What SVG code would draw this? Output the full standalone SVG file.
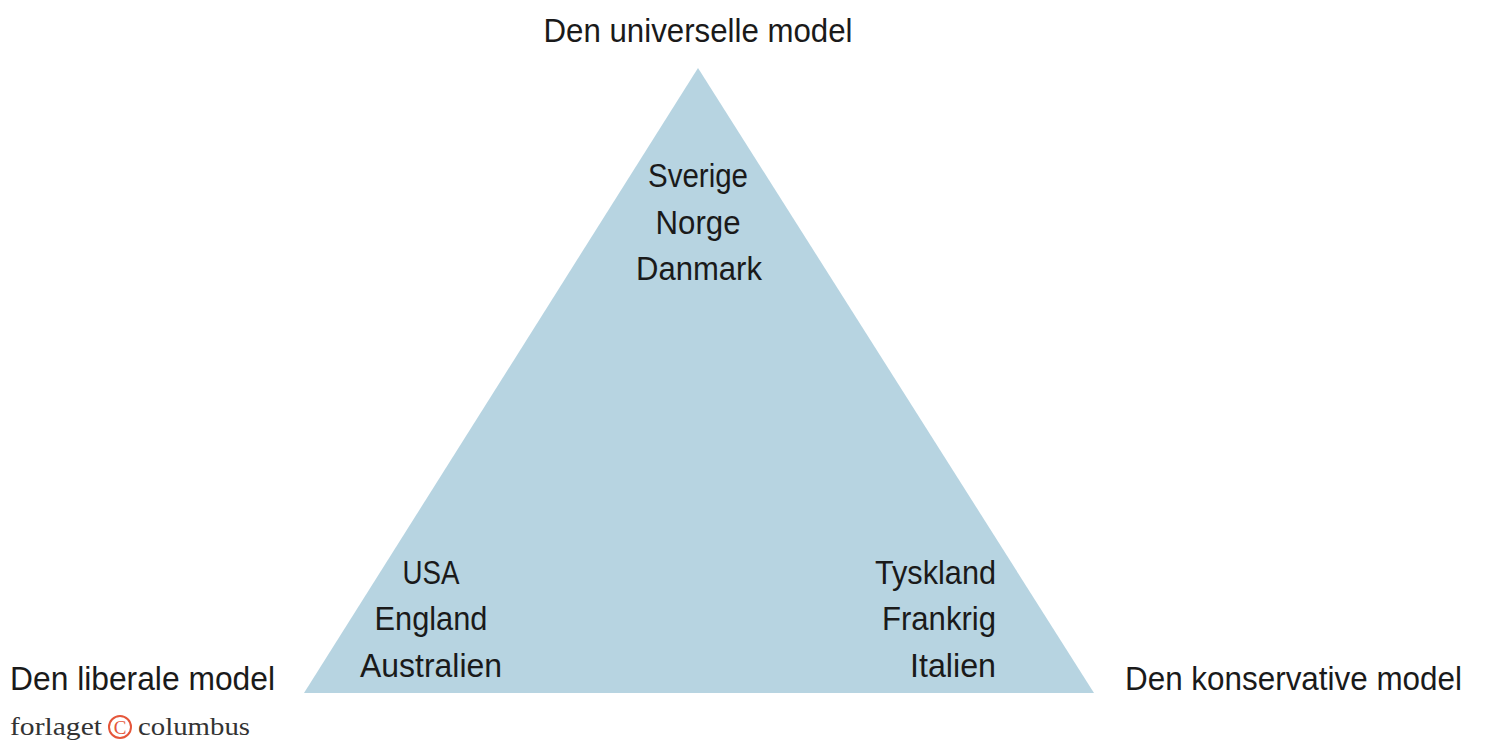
<svg xmlns="http://www.w3.org/2000/svg" width="1500" height="746" viewBox="0 0 1500 746">
<style>
text{font-family:"Liberation Sans",Arial,sans-serif;font-size:34px;fill:#1a1a1a}
.c{text-anchor:middle}.e{text-anchor:end}
.logo{font-family:"Liberation Serif",serif;font-size:26px;fill:#333}
</style>
<rect width="1500" height="746" fill="#fff"/>
<g id="triangle"><polygon points="698,68 304,693 1094,693" fill="#b7d4e1"/></g>
<g id="connectors"></g>
<g id="top"><text class="c" x="698" y="42" textLength="309" lengthAdjust="spacingAndGlyphs">Den universelle model</text>
<text class="c" x="698" y="187" textLength="100" lengthAdjust="spacingAndGlyphs">Sverige</text>
<text class="c" x="698" y="234" textLength="85" lengthAdjust="spacingAndGlyphs">Norge</text>
<text class="c" x="699" y="280" textLength="126" lengthAdjust="spacingAndGlyphs">Danmark</text></g>
<g id="left"><text x="10" y="690" textLength="265" lengthAdjust="spacingAndGlyphs">Den liberale model</text>
<text class="c" x="431" y="584" textLength="57" lengthAdjust="spacingAndGlyphs">USA</text>
<text class="c" x="431" y="630" textLength="113" lengthAdjust="spacingAndGlyphs">England</text>
<text class="c" x="431" y="677" textLength="142" lengthAdjust="spacingAndGlyphs">Australien</text></g>
<g id="right"><text x="1125" y="690" textLength="337" lengthAdjust="spacingAndGlyphs">Den konservative model</text>
<text class="e" x="996" y="584" textLength="121" lengthAdjust="spacingAndGlyphs">Tyskland</text>
<text class="e" x="996" y="630" textLength="114" lengthAdjust="spacingAndGlyphs">Frankrig</text>
<text class="e" x="996" y="677" textLength="86" lengthAdjust="spacingAndGlyphs">Italien</text></g>
<g id="logo"><text class="logo" x="10" y="735" textLength="92" lengthAdjust="spacingAndGlyphs">forlaget</text>
<circle cx="120" cy="727" r="11" fill="none" stroke="#e5563a" stroke-width="2"/>
<text x="120" y="734" text-anchor="middle" style="font-family:'Liberation Serif',serif;font-size:19px;fill:#e5563a">C</text>
<text class="logo" x="138" y="735" textLength="112" lengthAdjust="spacingAndGlyphs">columbus</text></g>
</svg>
